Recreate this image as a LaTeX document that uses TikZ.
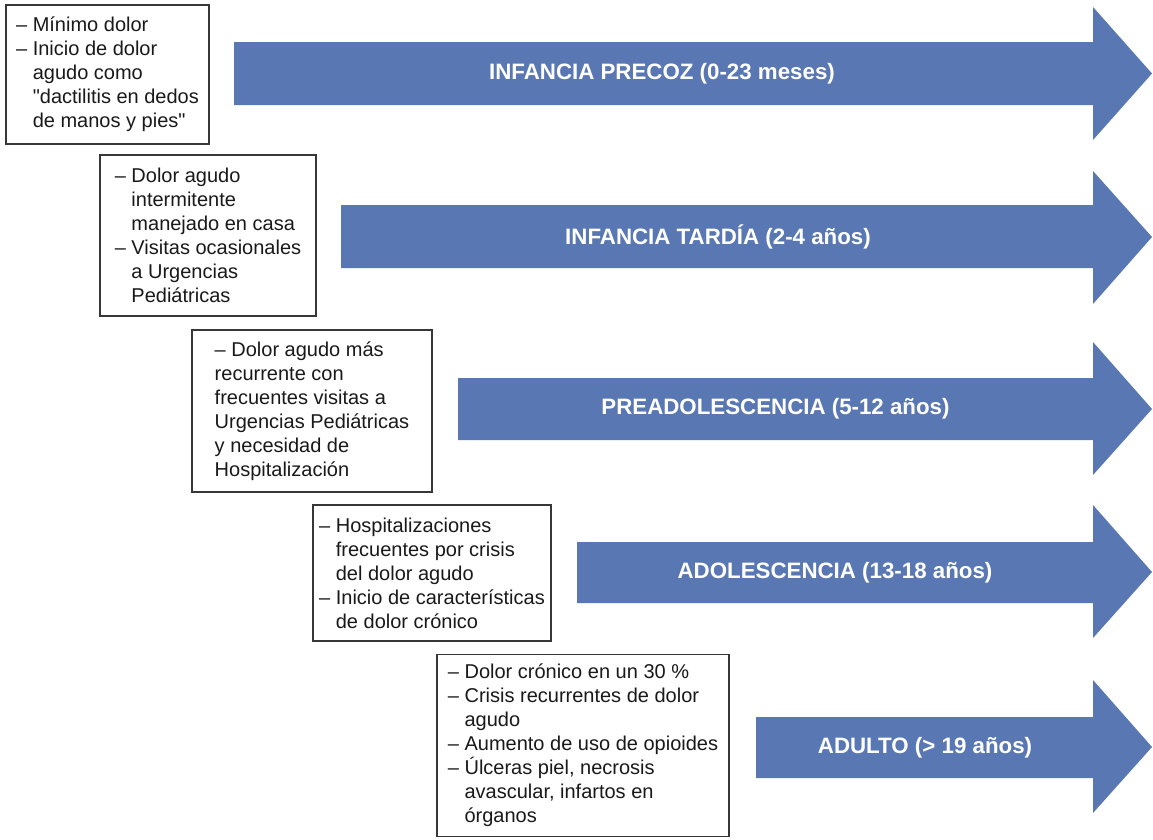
\documentclass[tikz,border=0pt]{standalone}
\usepackage{fontspec}
\setmainfont{Liberation Sans}
\usepackage{xcolor}
\usepackage{tikz}
\usetikzlibrary{positioning,calc}
\definecolor{phaseblue}{RGB}{89,119,178}
\definecolor{boxgray}{RGB}{55,55,55}
\tikzset{infobox/.style={draw=boxgray, line width=1.2pt, align=left, inner sep=0pt, text=black!90, font=\fontsize{20}{24}\selectfont},
phase/.style={fill=phaseblue, draw=none},
phaselabel/.style={text=white, font=\bfseries\fontsize{22.3}{26}\selectfont, inner sep=0pt}}
% indent for the lines after the dash
\newcommand{\hang}{\phantom{--\ }}

\begin{document}
\begin{tikzpicture}[x=1pt,y=-1pt]
  \useasboundingbox (0,0) rectangle (1153,839);

  % arrows
  \fill[phase] (234,42) -- (1093,42) -- (1093,7) -- (1152,73.5) -- (1093,140) -- (1093,105) -- (234,105) -- cycle;
  \node[phaselabel] (a1) at (662,73.5) {INFANCIA PRECOZ (0-23 meses)};

  \fill[phase] (341,205) -- (1093,205) -- (1093,171) -- (1152,237) -- (1093,304) -- (1093,268) -- (341,268) -- cycle;
  \node[phaselabel] (a2) at (718,237) {INFANCIA TARDÍA (2-4 años)};

  \fill[phase] (458,378) -- (1093,378) -- (1093,342) -- (1152,409) -- (1093,475) -- (1093,440) -- (458,440) -- cycle;
  \node[phaselabel] (a3) at (775.5,409) {PREADOLESCENCIA (5-12 años)};

  \fill[phase] (577,542) -- (1093,542) -- (1093,505) -- (1152,572) -- (1093,638) -- (1093,603) -- (577,603) -- cycle;
  \node[phaselabel] (a4) at (835,572.5) {ADOLESCENCIA (13-18 años)};

  \fill[phase] (756,717) -- (1093,717) -- (1093,680) -- (1152,747) -- (1093,813) -- (1093,778) -- (756,778) -- cycle;
  \node[phaselabel] (a5) at (925,747.5) {ADULTO (> 19 años)};

  % boxes
  \node[infobox, minimum width=203, minimum height=139] (b1) at (107.5,74.5)
    {-- Mínimo dolor\\-- Inicio de dolor\\\hang agudo como\\\hang \textquotedbl dactilitis en dedos\\\hang de manos y pies\textquotedbl};

  \node[infobox, minimum width=216, minimum height=161] (b2) at (208,235.5)
    {-- Dolor agudo\\\hang intermitente\\\hang manejado en casa\\-- Visitas ocasionales\\\hang a Urgencias\\\hang Pediátricas};

  \node[infobox, minimum width=240, minimum height=162] (b3) at (312,411)
    {-- Dolor agudo más\\recurrente con\\frecuentes visitas a\\Urgencias Pediátricas\\y necesidad de\\Hospitalización};

  \node[infobox, minimum width=238, minimum height=136] (b4) at (432,573)
    {-- Hospitalizaciones\\\hang frecuentes por crisis\\\hang del dolor agudo\\-- Inicio de características\\\hang de dolor crónico};

  \node[infobox, minimum width=292, minimum height=182] (b5) at (583,745.5)
    {-- Dolor crónico en un 30 \%\\-- Crisis recurrentes de dolor\\\hang agudo\\-- Aumento de uso de opioides\\-- Úlceras piel, necrosis\\\hang avascular, infartos en\\\hang órganos};

\end{tikzpicture}
\end{document}
